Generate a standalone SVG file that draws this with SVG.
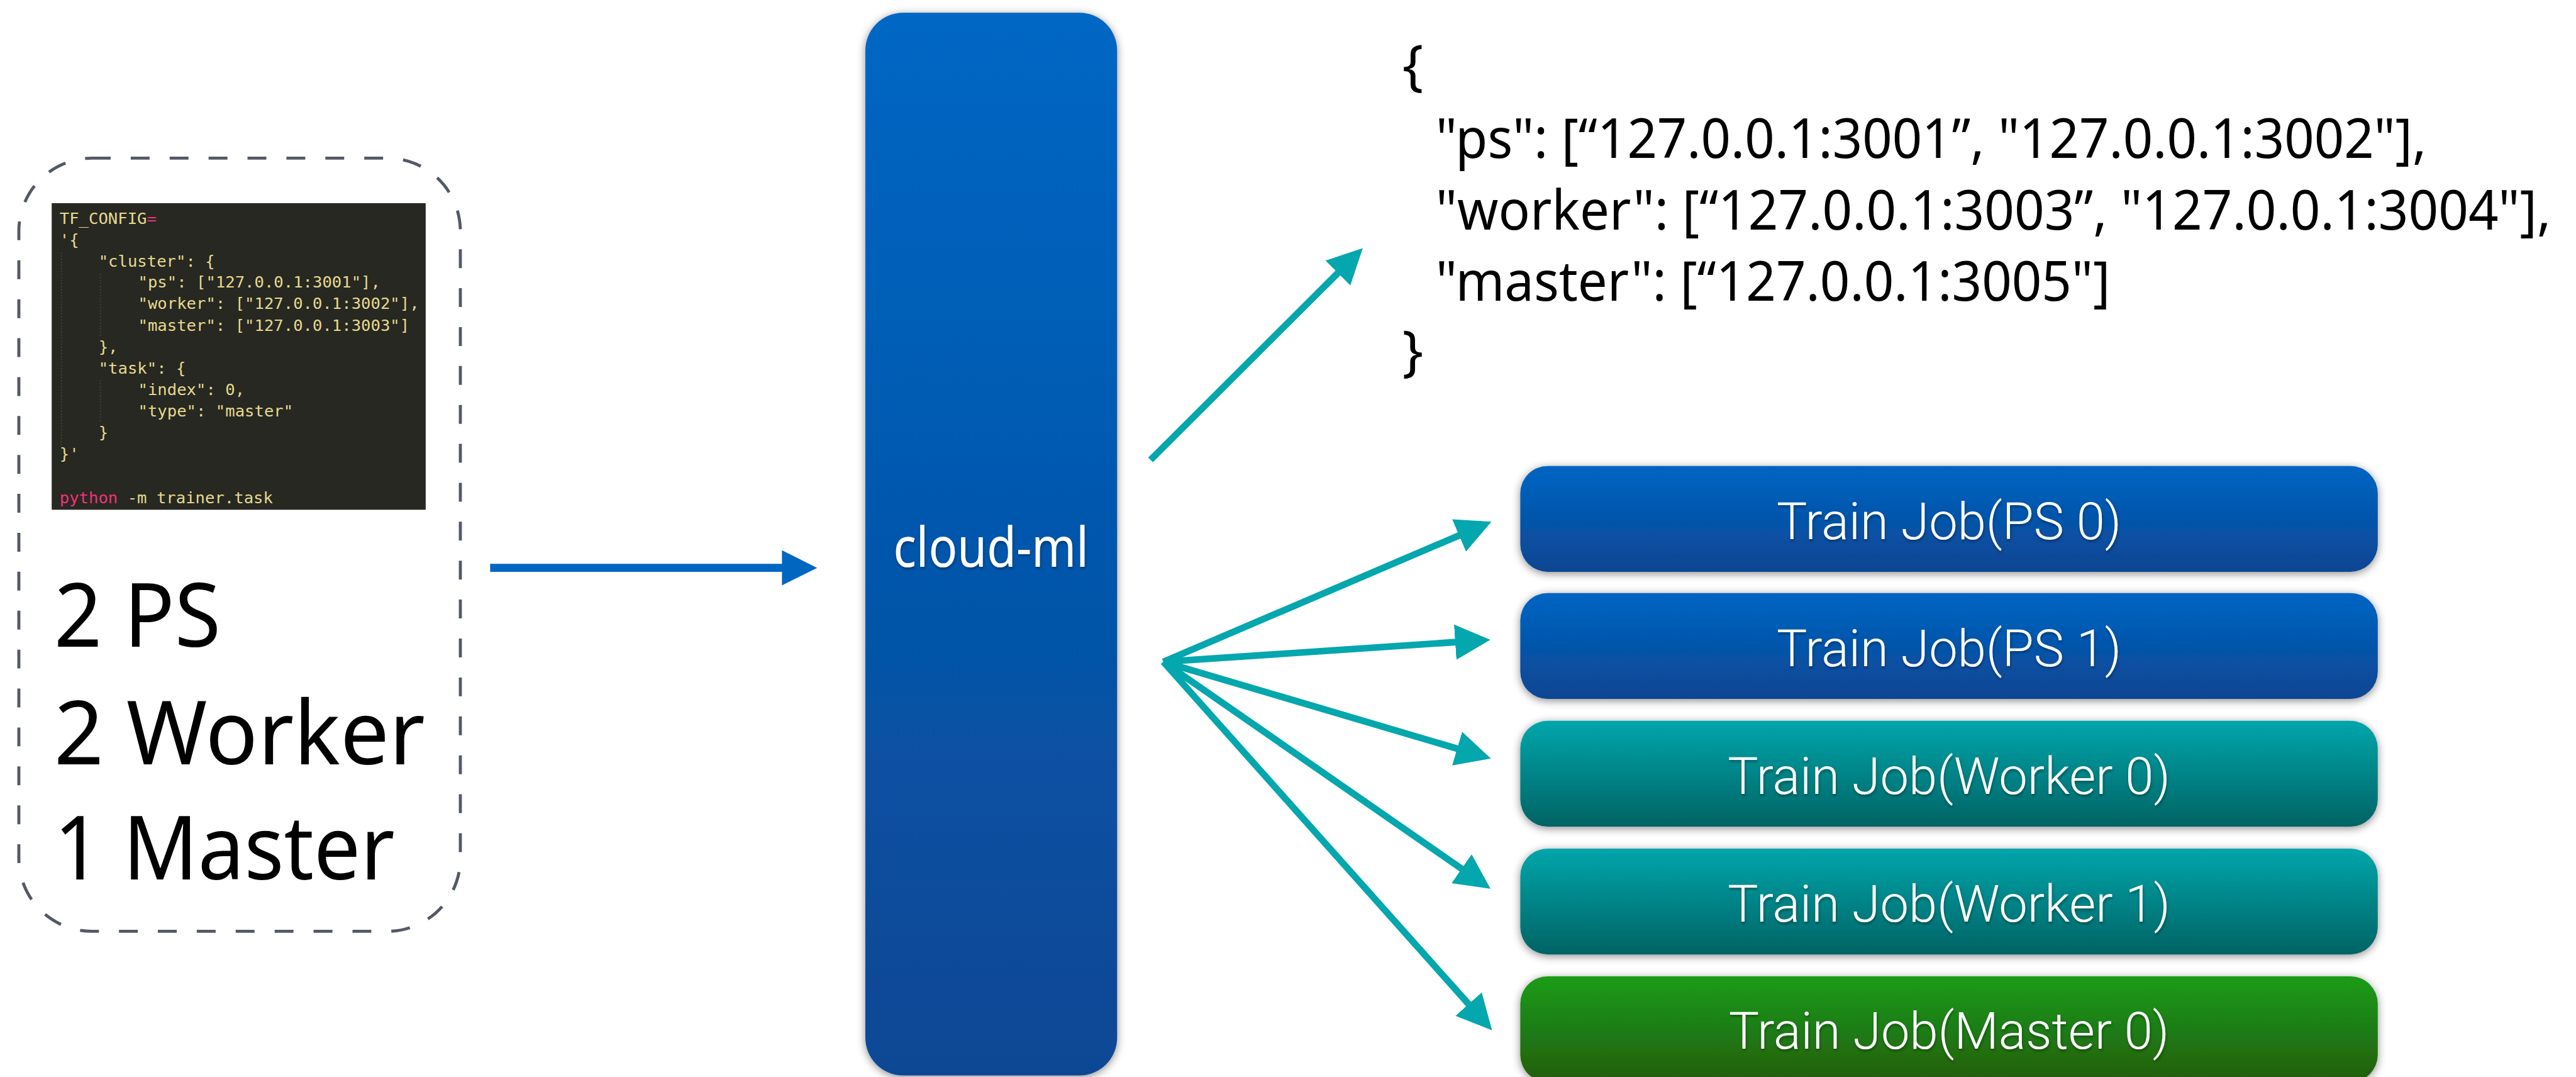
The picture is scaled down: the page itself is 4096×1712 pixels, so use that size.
<svg xmlns="http://www.w3.org/2000/svg" width="4096" height="1712" viewBox="0 0 4096 1712">
  <defs>
    <style>
      .hand { font-family: "Noto Sans", "DejaVu Sans", sans-serif; fill: #000; }
      .code { font-family: "DejaVu Sans Mono", "Liberation Mono", monospace; font-size: 26.5px; fill: #e6d98e; }
      .kw { fill: #f0337a; }
      .job { font-family: Roboto, "Open Sans", "Liberation Sans", sans-serif; font-weight: 300; font-size: 84px; fill: #fff; text-anchor: middle; }
      .teal { stroke: #03a7ad; stroke-width: 11; fill: none; marker-end: url(#headTeal); }
    </style>
    <linearGradient id="gCloud" x1="0" y1="0" x2="0" y2="1">
      <stop offset="0" stop-color="#0067c4"/>
      <stop offset="1" stop-color="#0a4794"/>
    </linearGradient>
    <linearGradient id="gPs" x1="0" y1="0" x2="0" y2="1">
      <stop offset="0" stop-color="#0065c3"/>
      <stop offset="1" stop-color="#0b4592"/>
    </linearGradient>
    <linearGradient id="gWorker" x1="0" y1="0" x2="0" y2="1">
      <stop offset="0" stop-color="#00a6ab"/>
      <stop offset="1" stop-color="#036364"/>
    </linearGradient>
    <linearGradient id="gMaster" x1="0" y1="0" x2="0" y2="1">
      <stop offset="0" stop-color="#1c9c19"/>
      <stop offset="1" stop-color="#225d0e"/>
    </linearGradient>
    <filter id="shadow" x="-10%" y="-20%" width="120%" height="140%">
      <feDropShadow dx="0" dy="3" stdDeviation="7" flood-color="#000" flood-opacity="0.45"/>
    </filter>
    <filter id="tshadow" x="-5%" y="-20%" width="110%" height="140%">
      <feDropShadow dx="1" dy="3" stdDeviation="2" flood-color="#000" flood-opacity="0.35"/>
    </filter>
    <marker id="headTeal" markerUnits="userSpaceOnUse" markerWidth="60" markerHeight="60" viewBox="0 -28 56 56" refX="2" refY="0" orient="auto">
      <path d="M0,-27 L54,0 L0,27 Z" fill="#03a7ad"/>
    </marker>
    <marker id="headBlue" markerUnits="userSpaceOnUse" markerWidth="60" markerHeight="60" viewBox="0 -28 56 56" refX="2" refY="0" orient="auto">
      <path d="M0,-27 L54,0 L0,27 Z" fill="#0066c0"/>
    </marker>
  </defs>

  <rect width="4096" height="1712" fill="#fff"/>

  <g transform="scale(0.96695)">
    <!-- job description: TF_CONFIG snippet and replica counts -->
    <g id="job-spec">
      <rect x="31" y="260" width="726" height="1271" rx="120" ry="120" fill="none" stroke="#535966" stroke-width="5" stroke-dasharray="31 33"/>
      <rect x="85" y="334" width="615" height="504" fill="#272822"/>
      <g stroke="#4a4a42" stroke-width="1.5" stroke-dasharray="2 3">
        <line x1="101" y1="415" x2="101" y2="740"/>
        <line x1="165" y1="450" x2="165" y2="555"/>
        <line x1="165" y1="625" x2="165" y2="695"/>
      </g>
      <text class="code">
        <tspan x="98" y="368">TF_CONFIG<tspan class="kw">=</tspan></tspan>
        <tspan x="98" y="403">'{</tspan>
        <tspan x="162" y="438">"cluster": {</tspan>
        <tspan x="227" y="473">"ps": ["127.0.0.1:3001"],</tspan>
        <tspan x="227" y="508">"worker": ["127.0.0.1:3002"],</tspan>
        <tspan x="227" y="544">"master": ["127.0.0.1:3003"]</tspan>
        <tspan x="162" y="579">},</tspan>
        <tspan x="162" y="614">"task": {</tspan>
        <tspan x="227" y="649">"index": 0,</tspan>
        <tspan x="227" y="685">"type": "master"</tspan>
        <tspan x="162" y="720">}</tspan>
        <tspan x="98" y="755">}'</tspan>
        <tspan x="98" y="827"><tspan class="kw">python</tspan> -m trainer.task</tspan>
      </text>
      <text class="hand" font-size="146" x="89" y="1063" textLength="274" lengthAdjust="spacingAndGlyphs">2 PS</text>
      <text class="hand" font-size="146" x="89" y="1257" textLength="610" lengthAdjust="spacingAndGlyphs">2 Worker</text>
      <text class="hand" font-size="146" x="89" y="1446" textLength="560" lengthAdjust="spacingAndGlyphs">1 Master</text>
    </g>

    <!-- cloud-ml service -->
    <g id="cloud-ml">
      <rect x="1423" y="21" width="414" height="1747" rx="62" ry="62" fill="url(#gCloud)" filter="url(#shadow)"/>
      <text class="hand" font-size="90" x="1469" y="932" textLength="321" lengthAdjust="spacingAndGlyphs" fill="#fff" style="fill:#fff" filter="url(#tshadow)">cloud-ml</text>
    </g>

    <!-- generated cluster spec -->
    <g id="cluster-spec" class="hand" font-size="91">
      <text x="2306" y="139">{</text>
      <text x="2361" y="260" textLength="1629" lengthAdjust="spacingAndGlyphs">"ps": [“127.0.0.1:3001”, "127.0.0.1:3002"],</text>
      <text x="2361" y="377" textLength="1834" lengthAdjust="spacingAndGlyphs">"worker": [“127.0.0.1:3003”, "127.0.0.1:3004"],</text>
      <text x="2361" y="494" textLength="1109" lengthAdjust="spacingAndGlyphs">"master": [“127.0.0.1:3005"]</text>
      <text x="2306" y="608">}</text>
    </g>

    <!-- training jobs -->
    <g id="job-ps0">
      <rect x="2500" y="766" width="1410" height="174" rx="45" fill="url(#gPs)" filter="url(#shadow)"/>
      <text class="job" x="3205" y="886" filter="url(#tshadow)">Train Job(PS 0)</text>
    </g>
    <g id="job-ps1">
      <rect x="2500" y="975" width="1410" height="174" rx="45" fill="url(#gPs)" filter="url(#shadow)"/>
      <text class="job" x="3205" y="1095" filter="url(#tshadow)">Train Job(PS 1)</text>
    </g>
    <g id="job-worker0">
      <rect x="2500" y="1185" width="1410" height="174" rx="45" fill="url(#gWorker)" filter="url(#shadow)"/>
      <text class="job" x="3205" y="1305" filter="url(#tshadow)">Train Job(Worker 0)</text>
    </g>
    <g id="job-worker1">
      <rect x="2500" y="1395" width="1410" height="174" rx="45" fill="url(#gWorker)" filter="url(#shadow)"/>
      <text class="job" x="3205" y="1515" filter="url(#tshadow)">Train Job(Worker 1)</text>
    </g>
    <g id="job-master0">
      <rect x="2500" y="1605" width="1410" height="174" rx="45" fill="url(#gMaster)" filter="url(#shadow)"/>
      <text class="job" x="3205" y="1724" filter="url(#tshadow)">Train Job(Master 0)</text>
    </g>

    <!-- connectors -->
    <g id="connectors">
      <line x1="806" y1="933.5" x2="1288" y2="933.5" stroke="#0066c0" stroke-width="13" marker-end="url(#headBlue)"/>
      <line class="teal" x1="1892" y1="756" x2="2201.5" y2="447.4"/>
      <line class="teal" x1="1913" y1="1088" x2="2401.3" y2="879.4"/>
      <line class="teal" x1="1913" y1="1088" x2="2395.1" y2="1055.5"/>
      <line class="teal" x1="1913" y1="1088" x2="2398.2" y2="1231.3"/>
      <line class="teal" x1="1913" y1="1088" x2="2405.2" y2="1429.4"/>
      <line class="teal" x1="1913" y1="1088" x2="2416.4" y2="1652.2"/>
    </g>
  </g>
</svg>
